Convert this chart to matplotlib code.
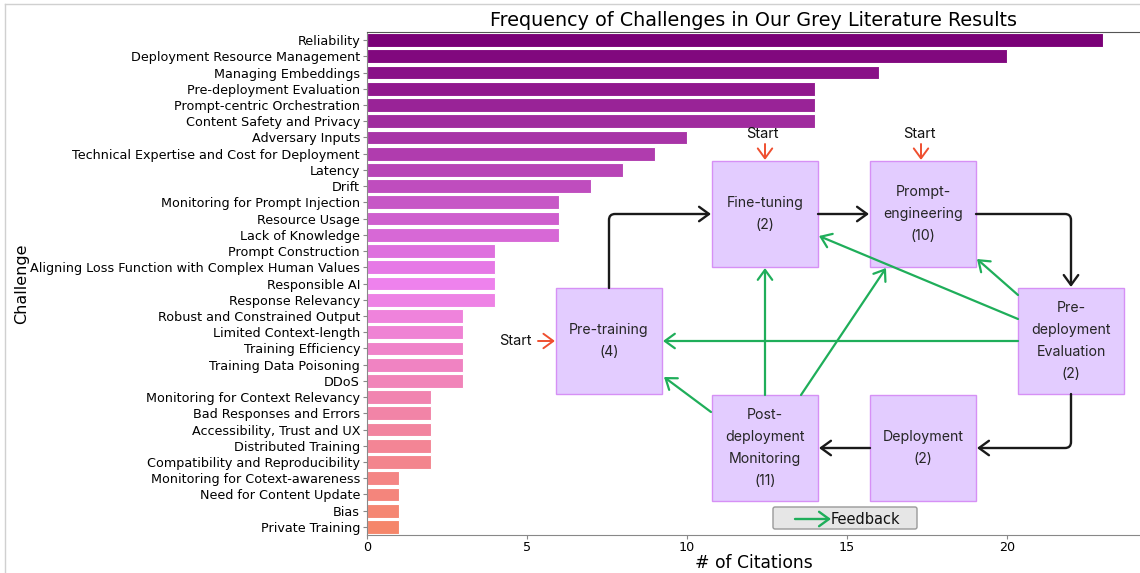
#! /usr/bin/env python3
""" Horizontal bar chart of challenge frequencies with the lifecycle diagram on top. """

import matplotlib
matplotlib.use('Agg')
import matplotlib.pyplot as plt
import seaborn as sns
from matplotlib.patches import Rectangle, FancyArrowPatch, FancyBboxPatch
from matplotlib.path import Path

challenges = [
    'Reliability', 'Deployment Resource Management', 'Managing Embeddings',
    'Pre-deployment Evaluation', 'Prompt-centric Orchestration',
    'Content Safety and Privacy', 'Adversary Inputs',
    'Technical Expertise and Cost for Deployment', 'Latency', 'Drift',
    'Monitoring for Prompt Injection', 'Resource Usage', 'Lack of Knowledge',
    'Prompt Construction', 'Aligning Loss Function with Complex Human Values',
    'Responsible AI', 'Response Relevancy', 'Robust and Constrained Output',
    'Limited Context-length', 'Training Efficiency', 'Training Data Poisoning',
    'DDoS', 'Monitoring for Context Relevancy', 'Bad Responses and Errors',
    'Accessibility, Trust and UX', 'Distributed Training',
    'Compatibility and Reproducibility', 'Monitoring for Cotext-awareness',
    'Need for Content Update', 'Bias', 'Private Training',
]
citations = [23, 20, 16, 14, 14, 14, 10, 9, 8, 7, 6, 6, 6, 4, 4, 4, 4,
             3, 3, 3, 3, 3, 2, 2, 2, 2, 2, 1, 1, 1, 1]

# lifecycle stages and their counts (diagram)
stages = ['Pre-training', 'Fine-tuning', 'Prompt-\nengineering',
          'Pre-\ndeployment\nEvaluation', 'Deployment',
          'Post-\ndeployment\nMonitoring']
stage_counts = [4, 2, 10, 2, 2, 11]

W, H = 1140, 573
BOX_FC = '#e3ccff'
BOX_EC = '#d690f5'
GREEN = '#1fae5a'
RED = '#ef4f2f'
TXT = '#262626'


def px(x, y):
    return x / W, 1 - y / H


def main():
    fig = plt.figure(figsize=(W / 100, H / 100), dpi=100)
    left, top = px(367, 32)
    _, bottom = px(0, 535)
    ax = fig.add_axes([left, bottom, 1 - left, top - bottom])

    colors = sns.blend_palette(['#7a0077', 'violet', '#f5866a'], len(citations))
    ypos = list(range(len(challenges)))
    ax.barh(ypos, citations, height=0.85, color=colors, edgecolor='white',
            linewidth=0.8)
    ax.set_yticks(ypos)
    ax.set_yticklabels(challenges, fontsize=9.2)
    ax.set_ylim(len(challenges) - 0.5, -0.5)
    ax.set_xlim(0, 773 / 32)
    ax.set_xticks([0, 5, 10, 15, 20])
    ax.tick_params(axis='x', labelsize=9.2, length=3, pad=1, color='#888888')
    ax.tick_params(axis='y', length=3, pad=2, color='#888888')
    for side in ['left', 'bottom']:
        ax.spines[side].set_color('#888888')
    ax.spines['top'].set_color('#555555')
    ax.spines['right'].set_visible(False)
    ax.set_xlabel('# of Citations', fontsize=12.3, labelpad=0)
    ax.set_ylabel('Challenge', fontsize=11.5)
    ax.yaxis.set_label_coords(-0.437, 0.5, transform=ax.transAxes)
    ax.set_title('Frequency of Challenges in Our Grey Literature Results',
                 fontsize=13.8, pad=4)

    draw_diagram(fig)

    # screenshot frame
    fig.add_artist(plt.Line2D([5 / W, 5 / W], [0, 1 - 4 / H], color='#d0d0d0',
                              lw=1, transform=fig.transFigure))
    fig.add_artist(plt.Line2D([5 / W, 1], [1 - 4 / H, 1 - 4 / H],
                              color='#d0d0d0', lw=1, transform=fig.transFigure))

    fig.savefig('out.png', dpi=100)


def arrow(ax, pts, color, corner=6, zorder=5, lw=1.4):
    """Open-headed arrow through pts, rounding the inner corners."""
    verts = [pts[0]]
    codes = [Path.MOVETO]
    for i in range(1, len(pts) - 1):
        (x0, y0), (x1, y1), (x2, y2) = pts[i - 1], pts[i], pts[i + 1]
        d0 = ((x1 - x0) ** 2 + (y1 - y0) ** 2) ** 0.5
        d1 = ((x2 - x1) ** 2 + (y2 - y1) ** 2) ** 0.5
        a = (x1 - (x1 - x0) * corner / d0, y1 - (y1 - y0) * corner / d0)
        b = (x1 + (x2 - x1) * corner / d1, y1 + (y2 - y1) * corner / d1)
        verts += [a, (x1, y1), b]
        codes += [Path.LINETO, Path.CURVE3, Path.CURVE3]
    verts.append(pts[-1])
    codes.append(Path.LINETO)
    p = FancyArrowPatch(path=Path(verts, codes),
                        arrowstyle='->,head_length=0.55,head_width=0.4',
                        mutation_scale=13, color=color, lw=lw, zorder=zorder)
    ax.add_patch(p)


def draw_diagram(fig):
    ax = fig.add_axes([0, 0, 1, 1], zorder=10)
    ax.set_xlim(0, W)
    ax.set_ylim(H, 0)
    ax.axis('off')

    boxes = [(556, 288), (712, 161), (870, 161), (1018, 288), (870, 395),
             (712, 395)]
    bw, bh = 106, 106
    for (x, y), name, n in zip(boxes, stages, stage_counts):
        ax.add_patch(Rectangle((x, y), bw, bh, fc=BOX_FC, ec=BOX_EC, lw=1,
                               zorder=3))
        ax.text(x + bw / 2, y + bh / 2, '{}\n({})'.format(name, n),
                ha='center', va='center', fontsize=10.2, family='Inter',
                color=TXT, linespacing=1.75, zorder=4)

    # main flow
    k = '#1a1a1a'
    arrow(ax, [(609, 288), (609, 214), (711, 214)], k, lw=1.7)
    arrow(ax, [(818, 214), (869, 214)], k, lw=1.7)
    arrow(ax, [(976, 214), (1071, 214), (1071, 287)], k, lw=1.7)
    arrow(ax, [(1071, 394), (1071, 448), (977, 448)], k, lw=1.7)
    arrow(ax, [(870, 448), (819, 448)], k, lw=1.7)

    # feedback
    arrow(ax, [(1018, 341), (663, 341)], GREEN, lw=1.6)
    arrow(ax, [(1018, 319), (819, 236)], GREEN, lw=1.6)
    arrow(ax, [(1018, 295), (977, 259)], GREEN, lw=1.6)
    arrow(ax, [(765, 395), (765, 268)], GREEN, lw=1.6)
    arrow(ax, [(801, 395), (886, 268)], GREEN, lw=1.6)
    arrow(ax, [(711, 412), (664, 377)], GREEN, lw=1.6)

    # entry points
    for (sx, sy), (ex, ey), (tx, ty) in [((765, 144), (765, 160), (762, 134)),
                                         ((921, 144), (921, 160), (919, 134)),
                                         ((538, 341), (555, 341), (515, 341))]:
        arrow(ax, [(sx, sy), (ex, ey)], RED, lw=1.4)
        ax.text(tx, ty, 'Start', ha='center', va='center', fontsize=10.5,
                family='Inter', color='#111111')

    # feedback legend
    ax.add_patch(FancyBboxPatch((773, 507), 144, 22,
                                boxstyle='round,pad=0,rounding_size=2',
                                fc='#e6e6e6', ec='#999999', lw=1, zorder=3))
    arrow(ax, [(795, 519), (831, 519)], GREEN, lw=1.7)
    ax.text(831, 519, 'Feedback', ha='left', va='center', fontsize=10.5,
            color='#111111', zorder=4)


if __name__ == "__main__":
    main()
